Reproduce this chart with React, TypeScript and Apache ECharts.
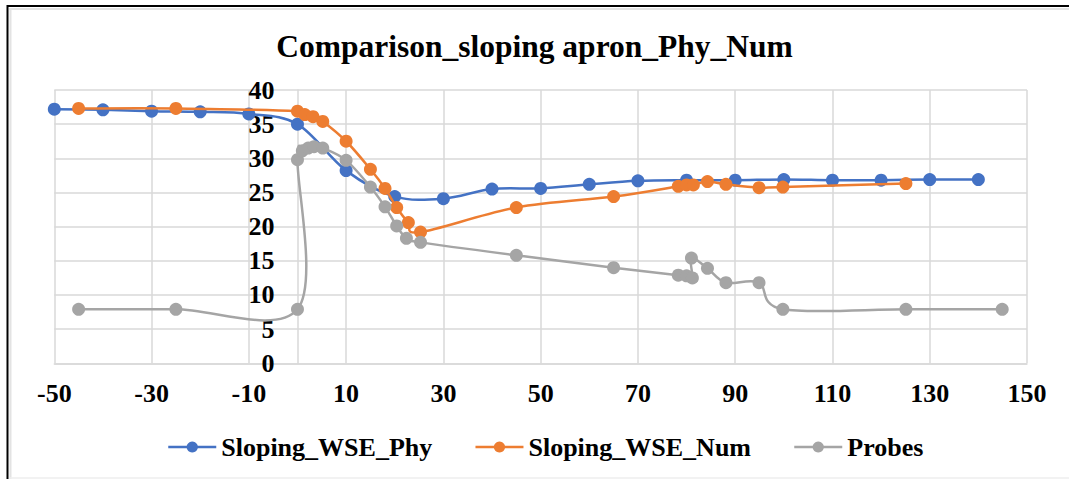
import React, { useEffect, useRef } from "react";
import * as echarts from "echarts";

const titleText = "Comparison_sloping apron_Phy_Num";
const seriesNames = ["Sloping_WSE_Phy", "Sloping_WSE_Num", "Probes"];

const phyX = [-50, -40, -30, -20, -10, 0, 10, 20, 30, 40, 50, 60, 70, 80, 90, 100, 110, 120, 130, 140];
const phyY = [37.2, 37.1, 36.9, 36.8, 36.5, 35.0, 28.2, 24.4, 24.1, 25.5, 25.6, 26.2, 26.7, 26.8, 26.8, 26.9, 26.8, 26.8, 26.9, 26.9];

const numX = [-45, -25, 0, 1.5, 3.2, 5.2, 10, 15, 18, 20.4, 22.8, 25.3, 45, 65, 78.3, 80, 81.4, 84.3, 88.1, 94.9, 99.8, 125.1];
const numY = [37.3, 37.3, 36.9, 36.4, 36.1, 35.4, 32.5, 28.4, 25.6, 22.8, 20.6, 19.2, 22.8, 24.4, 25.9, 26.1, 26.1, 26.6, 26.2, 25.7, 25.8, 26.3];

const probeX = [-45, -25, 0, 0, 1, 2.2, 3.4, 5.2, 10, 15, 18, 20.4, 22.4, 25.3, 45, 65, 78.3, 80, 81.2, 81, 84.3, 88.1, 94.9, 99.8, 125.1, 144.9];
const probeY = [7.9, 7.9, 7.9, 29.8, 31.1, 31.5, 31.7, 31.5, 29.7, 25.8, 22.9, 20.1, 18.3, 17.7, 15.8, 14.0, 12.9, 12.8, 12.5, 15.4, 13.9, 11.8, 11.8, 7.9, 7.9, 7.9];

const colors = ["#4472C4", "#ED7D31", "#A5A5A5"];

const xMin = -50;
const xMax = 150;
const xStep = 20;
const yMin = 0;
const yMax = 40;
const yStep = 5;

const pairs = (xs: number[], ys: number[]) => xs.map((x, i) => [x, ys[i]]);
const allData = [pairs(phyX, phyY), pairs(numX, numY), pairs(probeX, probeY)];

// Catmull-Rom style smoothing (like Excel's smoothed scatter lines)
function smoothPath(pts: number[][]): string {
  if (pts.length < 2) return "";
  let d = `M${pts[0][0]},${pts[0][1]}`;
  for (let i = 0; i < pts.length - 1; i++) {
    const p0 = pts[i - 1] || pts[i];
    const p1 = pts[i];
    const p2 = pts[i + 1];
    const p3 = pts[i + 2] || pts[i + 1];
    const c1x = p1[0] + (p2[0] - p0[0]) / 6;
    const c1y = p1[1] + (p2[1] - p0[1]) / 6;
    const c2x = p2[0] - (p3[0] - p1[0]) / 6;
    const c2y = p2[1] - (p3[1] - p1[1]) / 6;
    d += ` C${c1x},${c1y} ${c2x},${c2y} ${p2[0]},${p2[1]}`;
  }
  return d;
}

const GRID = { left: 54.3, right: 42, top: 90, bottom: 115.7 };
const W = 1069;
const H = 479;

export default function App() {
  const ref = useRef<HTMLDivElement>(null);
  useEffect(() => {
    if (!ref.current) return;
    const chart = echarts.init(ref.current, null, { renderer: "svg" });
    const font = "'Liberation Serif', 'Times New Roman', serif";
    const gridColor = "#D9D9D9";
    const gridW = W - GRID.left - GRID.right;
    const yAxisOffset = -gridW * (0 - xMin) / (xMax - xMin);

    const series: any[] = [];
    allData.forEach((data, i) => {
      series.push({
        name: seriesNames[i],
        type: "line",
        data,
        z: 2 * i + 3,
        symbol: "circle",
        symbolSize: 13,
        showSymbol: true,
        lineStyle: { color: colors[i], width: 2.5, opacity: 0 },
        itemStyle: { color: colors[i] },
        emphasis: { disabled: true },
        silent: true,
      });
    });
    allData.forEach((data, i) => {
      series.push({
        name: seriesNames[i],
        type: "custom",
        data,
        z: 2 * i + 2,
        encode: { x: 0, y: 1 },
        itemStyle: { color: colors[i] },
        silent: true,
        renderItem: (params: any, api: any) => {
          if (params.dataIndex !== 0) return null;
          const pts = data.map((p) => api.coord(p));
          return {
            type: "path",
            shape: { pathData: smoothPath(pts) },
            style: { fill: "none", stroke: colors[i], lineWidth: 2.5 },
          };
        },
      });
    });

    chart.setOption({
      animation: false,
      backgroundColor: "#fff",
      title: {
        text: titleText,
        left: "center",
        top: 25,
        textStyle: { fontFamily: font, fontWeight: "bold", fontSize: 31.5, color: "#000" },
      },
      legend: {
        left: 162,
        top: 429,
        itemWidth: 48,
        itemHeight: 14,
        itemGap: 42,
        textStyle: { fontFamily: font, fontWeight: "bold", fontSize: 26, color: "#000" },
        lineStyle: { opacity: 1, width: 2.5 },
        data: seriesNames,
      },
      grid: { ...GRID, containLabel: false },
      xAxis: {
        type: "value",
        min: xMin,
        max: xMax,
        interval: xStep,
        axisLine: { show: true, onZero: false, lineStyle: { color: gridColor, width: 1.5 } },
        axisTick: { show: false },
        splitLine: { show: true, lineStyle: { color: gridColor, width: 1.5 } },
        axisLabel: { fontFamily: font, fontWeight: "bold", fontSize: 26, color: "#000", margin: 17 },
      },
      yAxis: {
        type: "value",
        min: yMin,
        max: yMax,
        interval: yStep,
        offset: yAxisOffset,
        axisLine: { show: true, onZero: false, lineStyle: { color: gridColor, width: 1.5 } },
        axisTick: { show: false },
        splitLine: { show: true, lineStyle: { color: gridColor, width: 1.5 } },
        axisLabel: { fontFamily: font, fontWeight: "bold", fontSize: 26, color: "#000", margin: 23 },
      },
      graphic: [
        { type: "line", shape: { x1: 7, y1: 6, x2: 1069, y2: 6 }, style: { stroke: "#000", lineWidth: 2 }, silent: true },
        { type: "line", shape: { x1: 7.5, y1: 5, x2: 7.5, y2: 479 }, style: { stroke: "#000", lineWidth: 2 }, silent: true },
        { type: "line", shape: { x1: 9, y1: 9, x2: 1069, y2: 9 }, style: { stroke: "#E3E3E3", lineWidth: 2 }, silent: true },
        { type: "line", shape: { x1: 10.5, y1: 9, x2: 10.5, y2: 479 }, style: { stroke: "#E3E3E3", lineWidth: 2 }, silent: true },
        { type: "line", shape: { x1: 9, y1: 478, x2: 1069, y2: 478 }, style: { stroke: "#EEEEEE", lineWidth: 1.5 }, silent: true },
      ],
      series,
    });
    return () => chart.dispose();
  }, []);
  return (
    <div
      ref={ref}
      style={{ position: "fixed", left: 0, top: 0, width: W, height: H, background: "#fff" }}
    />
  );
}
